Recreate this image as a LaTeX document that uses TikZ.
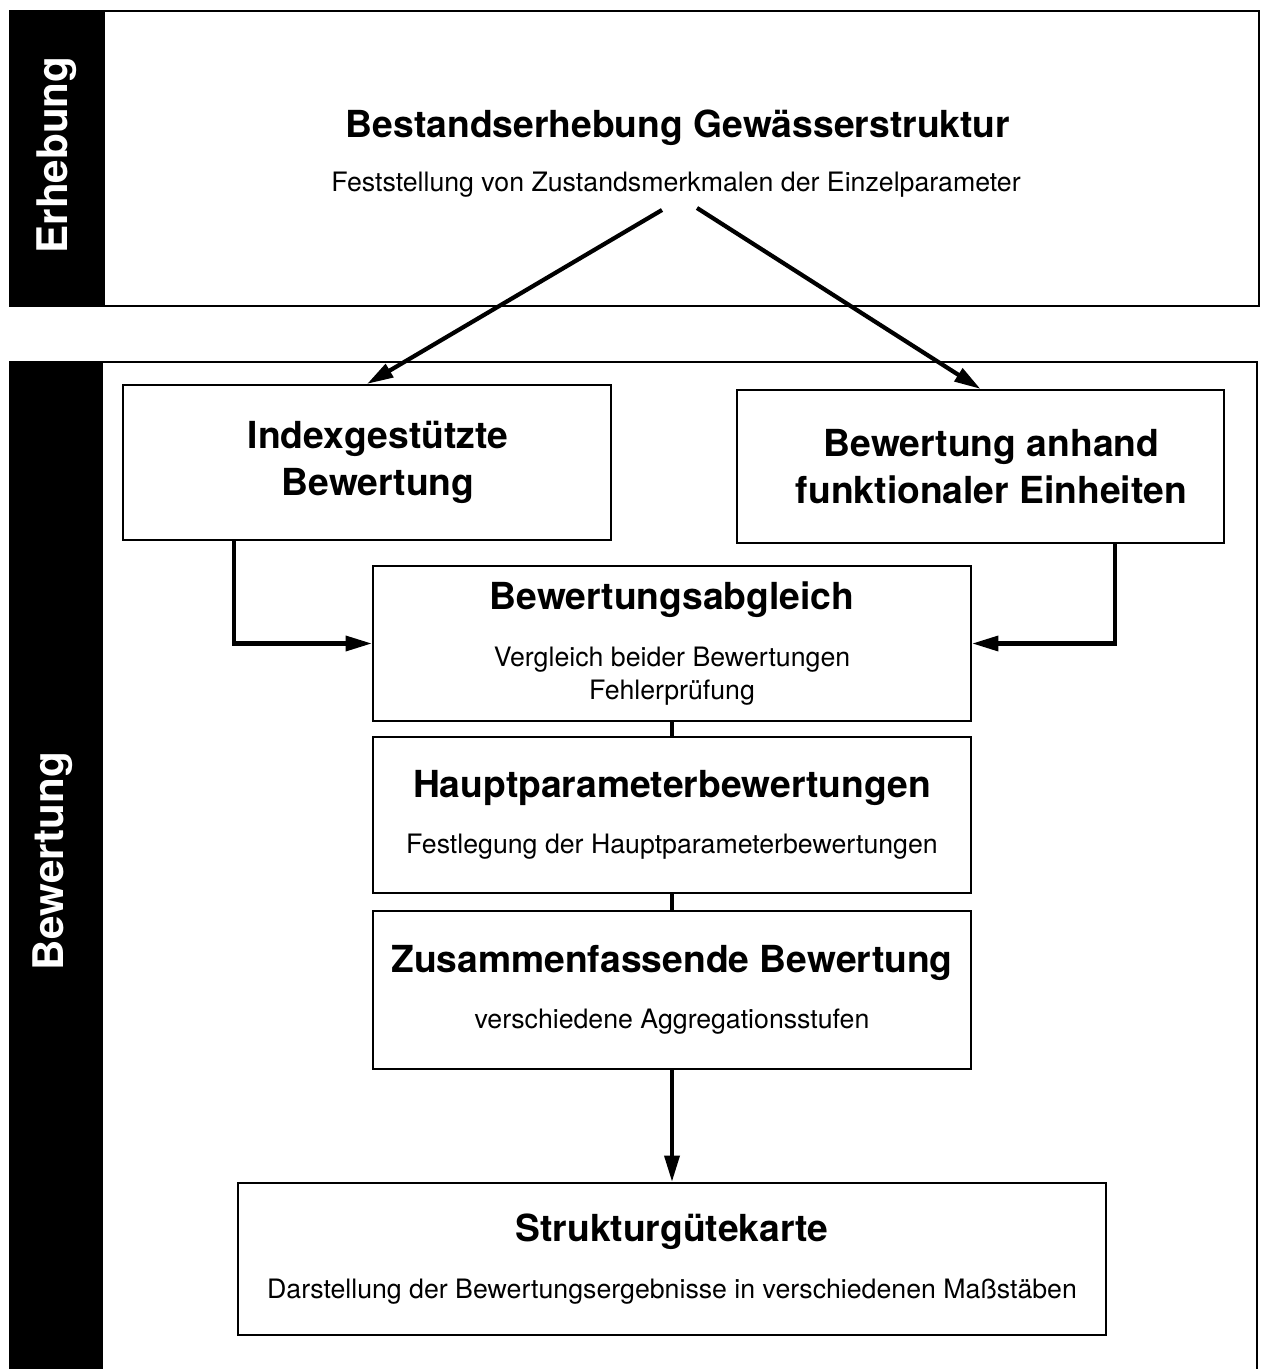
\documentclass[tikz,border=0pt]{standalone}
\usepackage{fontspec}
\setmainfont{TeX Gyre Heros}
\usetikzlibrary{arrows.meta,calc,positioning}

\tikzset{
  stufe/.style={draw, line width=0.6pt, align=center, inner sep=0pt,
    font=\fontsize{7.6}{9.4}\selectfont},
  stufekopf/.style={stufe, font=\fontsize{10.6}{13.6}\selectfont\bfseries},
  pfeil/.style={line width=1.2pt, -{Triangle[length=7.5pt,width=4.2pt]}},
  verbinder/.style={line width=1.2pt},
  balken/.style={text=white, rotate=90, font=\fontsize{12}{14}\selectfont\bfseries},
}
\newcommand{\kopf}[1]{{\fontsize{10.6}{13.6}\selectfont\bfseries #1}}

\begin{document}
\begin{tikzpicture}
\useasboundingbox (0,0) rectangle (12.61,-13.69);

% frames with black side bars
\fill (0.10,-0.11) rectangle (1.05,-3.06);
\draw[line width=0.6pt] (0.10,-0.11) rectangle (12.59,-3.06);
\fill (0.10,-3.62) rectangle (1.03,-13.69);
\draw[line width=0.6pt] (0.10,-13.69) -- (0.10,-3.62) -- (12.57,-3.62) -- (12.57,-13.69);

\node[balken] (Erhebung)  at (0.57,-1.55) {Erhebung};
\node[balken] (Bewertung) at (0.53,-8.61) {Bewertung};

% Erhebung
\node[font=\fontsize{10.6}{13.6}\selectfont\bfseries] (Bestand) at (6.78,-1.28)
  {Bestandserhebung Gewässerstruktur};
\node[font=\fontsize{7.6}{9.4}\selectfont] (Feststellung) at (6.76,-1.85)
  {Feststellung von Zustandsmerkmalen der Einzelparameter};
\coordinate (AbLinks)  at (6.62,-2.10);
\coordinate (AbRechts) at (6.97,-2.08);

% Bewertung
\node[stufekopf, minimum width=4.88cm, minimum height=1.55cm] (Index) at (3.67,-4.625)
  {\hspace*{0.22cm}Indexgestützte\\\hspace*{0.22cm}Bewertung};
\node[stufekopf, minimum width=4.87cm, minimum height=1.53cm] (Funktion) at (9.805,-4.665)
  {\hspace*{0.22cm}Bewertung anhand\\\hspace*{0.22cm}funktionaler Einheiten};
\node[stufe, minimum width=5.98cm, minimum height=1.55cm] (Abgleich) at (6.72,-6.435)
  {\kopf{Bewertungsabgleich}\\[6.6pt]Vergleich beider Bewertungen\\Fehlerprüfung};
\node[stufe, minimum width=5.98cm, minimum height=1.56cm] (Haupt) at (6.72,-8.15)
  {\kopf{Hauptparameterbewertungen}\\[6.6pt]Festlegung der Hauptparameterbewertungen};
\node[stufe, minimum width=5.98cm, minimum height=1.58cm] (Zusammen) at (6.72,-9.90)
  {\kopf{Zusammenfassende Bewertung}\\[6.6pt]verschiedene Aggregationsstufen};
\node[stufe, minimum width=8.68cm, minimum height=1.52cm] (Karte) at (6.72,-12.59)
  {\kopf{Strukturgütekarte}\\[6.6pt]Darstellung der Bewertungsergebnisse in verschiedenen Maßstäben};

% connectors
\draw[pfeil] (AbLinks) -- (Index.north);
\draw[pfeil] (AbRechts) -- (Funktion.north);
\draw[pfeil] ($(Index.south)+(-1.33,0)$) |- (Abgleich.west);
\draw[pfeil] ($(Funktion.south)+(1.345,0)$) |- (Abgleich.east);
\draw[verbinder] (Abgleich.south) -- (Haupt.north);
\draw[verbinder] (Haupt.south) -- (Zusammen.north);
\draw[pfeil] (Zusammen.south) -- (Karte.north);
\end{tikzpicture}
\end{document}
